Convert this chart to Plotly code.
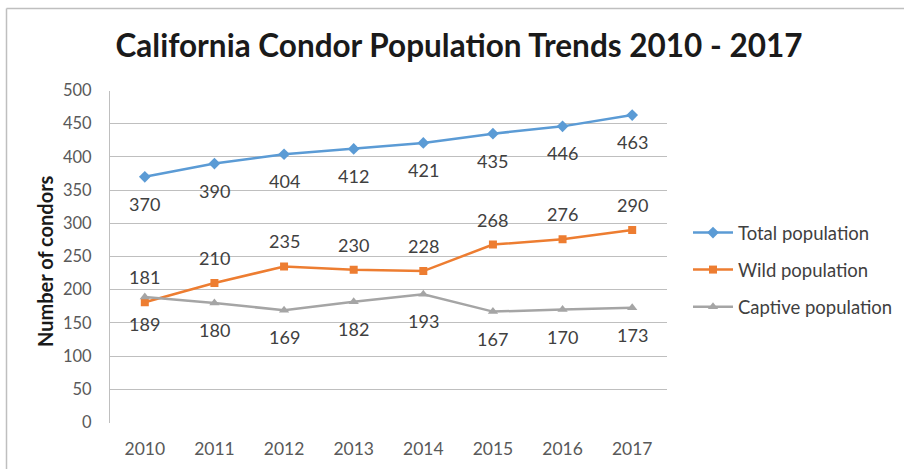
import plotly.graph_objects as go

# Population counts per year
years = [2010, 2011, 2012, 2013, 2014, 2015, 2016, 2017]
total_population = [370, 390, 404, 412, 421, 435, 446, 463]
wild_population = [181, 210, 235, 230, 228, 268, 276, 290]
captive_population = [189, 180, 169, 182, 193, 167, 170, 173]

y_ticks = [0, 50, 100, 150, 200, 250, 300, 350, 400, 450, 500]

W, H = 904, 469
FONT = "Lato"
LABEL_COLOR = "#404040"
TICK_COLOR = "#595959"

series = [
    ("Total population", total_population, "#5B9BD5", "diamond", 9, -27),
    ("Wild population", wild_population, "#ED7D31", "square", 8, 25),
    ("Captive population", captive_population, "#A5A5A5", "triangle-up", 9, -27),
]

fig = go.Figure()
annotations = []
for i, (name, vals, color, symbol, msize, shift) in enumerate(series):
    fig.add_trace(go.Scatter(
        x=years, y=vals, name=name, mode="lines+markers",
        line=dict(color=color, width=2.5),
        marker=dict(symbol=symbol, size=msize, color=color),
        legendgroup=f"g{i}",
    ))
    for x, v in zip(years, vals):
        annotations.append(dict(
            x=x, y=v, xref="x", yref="y", text=str(v), showarrow=False,
            yshift=shift, font=dict(family=FONT, size=18, color=LABEL_COLOR),
        ))

px = lambda v: v / W
py = lambda v: 1 - v / H

# vertical axis title
annotations.append(dict(
    x=px(45), y=py(261), xref="paper", yref="paper", text="<b>Number of condors</b>",
    textangle=-90, showarrow=False, xanchor="center", yanchor="middle",
    font=dict(family=FONT, size=20, color="#1a1a1a"),
))

# outer frame of the chart area (top and left edges)
shapes = [
    dict(type="line", xref="paper", yref="paper", x0=px(6.5), x1=px(6.5), y0=0, y1=py(8.5),
         line=dict(color="#BFBFBF", width=1.5)),
    dict(type="line", xref="paper", yref="paper", x0=px(6.5), x1=1, y0=py(8.5), y1=py(8.5),
         line=dict(color="#BFBFBF", width=1.5)),
]

fig.update_layout(
    width=W, height=H,
    margin=dict(l=0, r=0, t=0, b=0, autoexpand=False),
    paper_bgcolor="white", plot_bgcolor="white",
    font=dict(family=FONT, color=TICK_COLOR),
    title=dict(
        text="<b>California Condor Population Trends 2010 - 2017</b>",
        x=px(459), y=py(46), xanchor="center", yanchor="middle",
        font=dict(family=FONT, size=31.5, color="#1a1a1a"),
    ),
    xaxis=dict(
        domain=[px(110), px(667)],
        range=[2009.5, 2017.5], tickvals=years,
        showgrid=False, zeroline=False, automargin=False,
        showline=False, ticks="",
        tickfont=dict(family=FONT, size=17.5, color=TICK_COLOR),
        ticklabelstandoff=14,
    ),
    yaxis=dict(
        domain=[1 - 422.5 / H, 1 - 90.5 / H],
        range=[0, 500], tickvals=y_ticks, automargin=False,
        showgrid=True, gridcolor="#BFBFBF", gridwidth=1,
        zeroline=False, showline=True, linecolor="#BFBFBF", linewidth=1,
        ticks="", tickfont=dict(family=FONT, size=16.5, color=TICK_COLOR),
        ticklabelstandoff=14,
    ),
    legend=dict(
        x=px(688), y=py(214), xanchor="left", yanchor="top",
        font=dict(family=FONT, size=18.5, color=LABEL_COLOR),
        tracegroupgap=10, itemwidth=40, bgcolor="rgba(0,0,0,0)",
    ),
    annotations=annotations,
    shapes=shapes,
)

fig.write_html("out.html")
